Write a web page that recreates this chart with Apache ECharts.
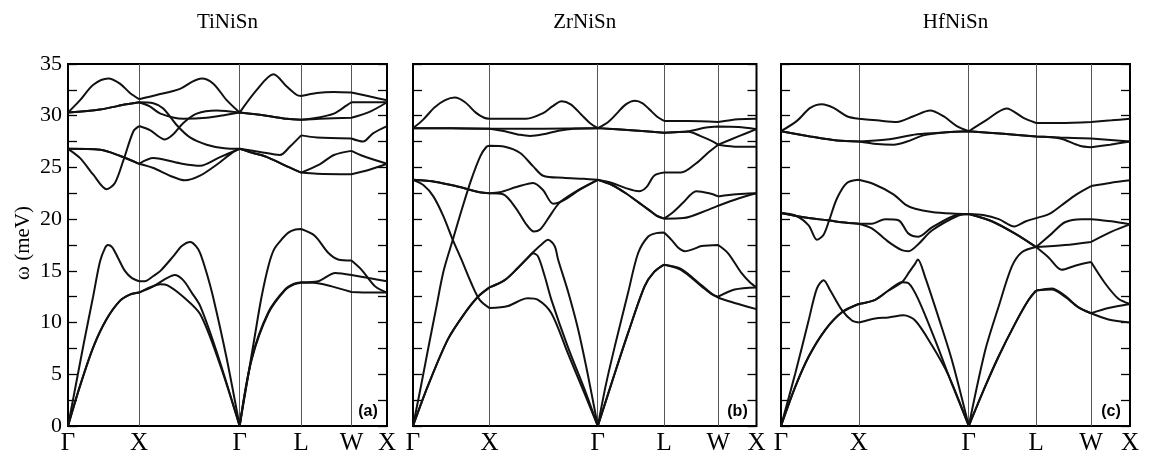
<!DOCTYPE html>
<html>
<head>
<meta charset="utf-8">
<script src="https://cdn.jsdelivr.net/npm/echarts@6/dist/echarts.min.js"></script>
<style>
  html, body { margin: 0; padding: 0; background: #fff; }
  #chart { width: 1152px; height: 456px; }
</style>
</head>
<body>
<div id="chart"></div>
<script>
// High-symmetry path Γ–X–Γ–L–W–X (path length in units of 2π/a)
const pathK = [0, 1, 2.414, 3.280, 3.987, 4.487];
const pathLabels = ['Γ', 'X', 'Γ', 'L', 'W', 'X'];
const freqTicks = [0, 5, 10, 15, 20, 25, 30, 35];
const compounds = ['TiNiSn', 'ZrNiSn', 'HfNiSn'];
const panelTags = ['(a)', '(b)', '(c)'];

// Phonon branches, [k, ω in meV]
const tiNiSn = [
  [[0,0],[0.1,3.6],[0.225,8.1],[0.35,12.4],[0.45,15.9],[0.52,17.2],[0.56,17.5],[0.62,17.3],[0.7,16.3],[0.8,15.0],[0.9,14.3],[1,14.0],[1.08,14.0],[1.2,14.5],[1.3,15.0],[1.48,16.4],[1.6,17.4],[1.72,17.8],[1.8,17.4],[1.86,16.7],[1.95,14.8],[2.04,12.5],[2.23,6.6],[2.414,0],[2.52,4.3],[2.63,8.8],[2.72,12.4],[2.82,15.5],[2.9,17.1],[3.0,18.0],[3.1,18.7],[3.2,19.0],[3.28,19.05],[3.47,18.4],[3.66,16.75],[3.8,16.1],[3.987,16.0],[4.13,15.1],[4.32,13.5],[4.487,12.9]],
  [[0,0],[0.17,3.9],[0.36,7.7],[0.54,10.3],[0.73,12.1],[0.87,12.7],[1,12.9],[1.2,13.5],[1.39,14.3],[1.5,14.6],[1.62,14.1],[1.74,12.9],[1.86,11.6],[2.09,7.2],[2.414,0],[2.583,6.5],[2.818,11.0],[3.053,13.2],[3.18,13.75],[3.28,13.9],[3.52,14.0],[3.76,14.8],[3.987,14.6],[4.23,14.3],[4.487,14.0]],
  [[0,0],[0.17,3.9],[0.36,7.7],[0.54,10.3],[0.73,12.1],[0.87,12.7],[1,12.9],[1.15,13.4],[1.3,13.7],[1.4,13.6],[1.62,12.5],[1.86,10.8],[2.14,5.9],[2.414,0],[2.583,6.4],[2.818,10.9],[3.053,13.15],[3.18,13.7],[3.28,13.85],[3.45,13.85],[3.71,13.5],[3.987,12.95],[4.25,12.9],[4.487,12.9]],
  [[0,30.3],[0.17,31.5],[0.356,33.0],[0.567,33.6],[0.73,33.1],[0.872,32.2],[1,31.6],[1.247,32.0],[1.575,32.6],[1.75,33.3],[1.88,33.6],[2.044,33.1],[2.232,31.5],[2.414,30.3],[2.655,32.5],[2.89,34.0],[3.08,32.8],[3.22,32.0],[3.28,31.9],[3.5,32.2],[3.74,32.3],[3.987,32.25],[4.25,31.85],[4.487,31.5]],
  [[0,30.3],[0.45,30.6],[0.82,31.1],[1,31.3],[1.15,30.9],[1.3,30.2],[1.62,29.7],[1.95,29.8],[2.23,30.1],[2.414,30.3],[2.79,30.0],[3.08,29.7],[3.28,29.6],[3.5,29.8],[3.74,30.2],[3.92,31.0],[3.987,31.3],[4.25,31.3],[4.487,31.3]],
  [[0,30.3],[0.45,30.6],[0.82,31.1],[1,31.3],[1.2,31.2],[1.34,30.7],[1.528,29.1],[1.716,27.9],[1.95,27.2],[2.2,26.85],[2.414,26.8],[2.6,26.4],[2.8,26.0],[3.08,25.1],[3.28,24.5],[3.5,24.4],[3.987,24.35],[4.25,24.8],[4.487,25.35]],
  [[0,26.8],[0.17,25.9],[0.356,24.3],[0.544,22.9],[0.66,23.5],[0.78,25.7],[0.92,28.5],[1,29.0],[1.153,28.6],[1.364,27.7],[1.481,28.2],[1.622,29.3],[1.81,30.2],[2.09,30.5],[2.414,30.3],[2.79,30.0],[3.08,29.7],[3.28,29.6],[3.54,29.7],[3.987,29.8],[4.25,30.4],[4.487,31.3]],
  [[0,26.8],[0.455,26.7],[0.736,26.1],[1,25.35],[1.2,25.9],[1.575,25.4],[1.857,25.16],[2.138,26.0],[2.414,26.8],[2.7,26.5],[2.98,26.2],[3.12,27.0],[3.28,28.1],[3.5,27.9],[3.987,27.8],[4.15,27.5],[4.29,28.3],[4.487,29.0]],
  [[0,26.8],[0.455,26.7],[0.736,26.1],[1,25.35],[1.2,24.94],[1.434,24.2],[1.645,23.75],[1.857,24.2],[2.09,25.26],[2.325,26.5],[2.414,26.8],[2.6,26.4],[2.8,26.0],[3.08,25.1],[3.28,24.5],[3.54,25.3],[3.74,26.2],[3.987,26.6],[4.15,26.1],[4.487,25.35]]
];

const zrNiSn = [
  [[0,28.8],[0.13,29.6],[0.28,30.8],[0.42,31.5],[0.545,31.75],[0.68,31.3],[0.82,30.3],[0.93,29.8],[1,29.7],[1.22,29.7],[1.48,29.7],[1.7,30.25],[1.82,30.9],[1.94,31.4],[2.06,31.1],[2.2,30.1],[2.31,29.3],[2.414,28.8],[2.55,29.4],[2.66,30.2],[2.78,31.1],[2.9,31.45],[3.0,31.2],[3.09,30.6],[3.19,29.9],[3.28,29.5],[3.6,29.5],[3.987,29.4],[4.25,29.65],[4.487,29.7]],
  [[0,28.8],[0.5,28.8],[1,28.75],[1.7,28.75],[2.414,28.8],[2.85,28.6],[3.28,28.35],[3.6,28.5],[3.83,28.85],[3.987,28.95],[4.25,28.9],[4.487,28.7]],
  [[0,28.8],[0.5,28.8],[1,28.75],[1.2,28.5],[1.4,28.15],[1.53,28.05],[1.7,28.2],[1.9,28.55],[2.1,28.75],[2.414,28.8],[2.85,28.6],[3.28,28.35],[3.6,28.45],[3.75,28.05],[3.92,27.5],[3.987,27.2],[4.25,27.0],[4.487,27.0]],
  [[0,0],[0.1,3.7],[0.196,7.4],[0.3,11.3],[0.4,15.0],[0.52,18.0],[0.64,21.0],[0.76,23.8],[0.88,26.1],[0.96,27.0],[1,27.1],[1.2,27.0],[1.4,26.4],[1.57,25.1],[1.7,24.2],[1.96,24.0],[2.23,23.9],[2.414,23.8],[2.6,23.5],[2.78,23.0],[2.95,22.7],[3.05,23.1],[3.15,24.2],[3.28,24.5],[3.5,24.5],[3.7,25.4],[3.85,26.4],[3.987,27.2],[4.25,28.0],[4.487,28.7]],
  [[0,23.8],[0.135,23.3],[0.266,22.2],[0.396,20.3],[0.52,18.0],[0.632,16.1],[0.762,13.8],[0.871,12.2],[1,11.4],[1.24,11.6],[1.415,12.2],[1.5,12.35],[1.633,12.2],[1.808,10.9],[2.025,7.0],[2.243,3.1],[2.414,0],[2.636,5.1],[2.81,9.0],[3.025,13.5],[3.15,14.9],[3.28,15.6],[3.5,15.2],[3.77,13.6],[3.9,12.8],[3.987,12.4],[4.2,11.9],[4.487,11.3]],
  [[0,0],[0.196,3.9],[0.457,8.4],[0.675,10.9],[0.849,12.5],[1,13.4],[1.198,14.1],[1.372,15.3],[1.52,16.4],[1.568,16.7],[1.633,16.4],[1.72,14.5],[1.808,12.2],[2.025,7.6],[2.243,3.5],[2.414,0],[2.636,5.1],[2.81,9.0],[3.025,13.5],[3.15,14.9],[3.28,15.6],[3.5,15.1],[3.77,13.5],[3.9,12.75],[3.987,12.5],[4.2,13.2],[4.487,13.4]],
  [[0,0],[0.196,3.9],[0.457,8.4],[0.675,10.9],[0.849,12.5],[1,13.4],[1.198,14.1],[1.372,15.3],[1.568,16.8],[1.7,17.7],[1.764,18.0],[1.85,17.4],[1.895,16.1],[2.025,13.0],[2.155,9.4],[2.28,5.1],[2.414,0],[2.52,4.0],[2.636,7.7],[2.81,12.9],[2.94,16.7],[3.07,18.3],[3.18,18.65],[3.28,18.7],[3.376,18.0],[3.47,17.2],[3.55,16.9],[3.66,17.1],[3.77,17.4],[3.987,17.5],[4.116,16.7],[4.29,14.8],[4.4,13.9],[4.487,13.4]],
  [[0,23.8],[0.3,23.6],[0.557,23.2],[0.872,22.6],[1,22.5],[1.133,22.6],[1.35,23.1],[1.57,23.5],[1.7,22.8],[1.83,21.5],[1.96,21.8],[2.18,22.85],[2.414,23.8],[2.6,23.3],[2.78,22.5],[2.95,21.6],[3.08,20.9],[3.18,20.35],[3.28,20.05],[3.4,20.7],[3.53,21.6],[3.7,22.7],[3.87,22.5],[3.987,22.2],[4.225,22.4],[4.487,22.5]],
  [[0,23.8],[0.3,23.6],[0.557,23.2],[0.872,22.6],[1,22.5],[1.176,22.4],[1.35,21.0],[1.47,19.6],[1.58,18.8],[1.66,19.0],[1.76,20.0],[1.86,21.1],[1.93,21.7],[2.18,22.9],[2.414,23.8],[2.6,23.3],[2.78,22.5],[2.95,21.6],[3.08,20.9],[3.18,20.35],[3.28,20.05],[3.53,20.1],[3.855,20.9],[3.987,21.3],[4.25,22.0],[4.487,22.5]]
];

const hfNiSn = [
  [[0,28.5],[0.205,29.5],[0.376,30.75],[0.526,31.1],[0.676,30.75],[0.847,29.95],[1,29.7],[1.232,29.55],[1.49,29.4],[1.703,29.95],[1.917,30.5],[2.089,29.95],[2.26,29.0],[2.414,28.5],[2.645,29.6],[2.9,30.7],[3.117,29.8],[3.28,29.3],[3.588,29.3],[3.987,29.4],[4.25,29.55],[4.487,29.7]],
  [[0,28.5],[0.376,28.0],[0.72,27.6],[1,27.5],[1.36,27.7],[1.75,28.2],[2.13,28.4],[2.414,28.5],[2.86,28.25],[3.28,28.0],[3.59,27.9],[3.987,27.8],[4.487,27.5]],
  [[0,28.5],[0.376,28.0],[0.72,27.6],[1,27.5],[1.19,27.3],[1.45,27.2],[1.62,27.5],[1.83,28.1],[2.13,28.4],[2.414,28.5],[2.86,28.25],[3.28,28.0],[3.59,27.8],[3.84,27.1],[3.987,26.95],[4.23,27.2],[4.487,27.5]],
  [[0,20.6],[0.184,20.35],[0.355,19.4],[0.462,18.0],[0.548,18.5],[0.62,19.9],[0.719,22.0],[0.847,23.5],[1,23.8],[1.19,23.4],[1.446,22.4],[1.6,21.4],[1.725,21.0],[1.94,20.7],[2.2,20.55],[2.414,20.5],[2.6,20.4],[2.8,20.0],[3.0,19.3],[3.15,19.8],[3.28,20.1],[3.45,20.5],[3.6,21.3],[3.8,22.4],[3.987,23.2],[4.23,23.5],[4.487,23.75]],
  [[0,20.6],[0.355,20.1],[0.6,19.9],[0.783,19.7],[1,19.55],[1.168,19.55],[1.34,20.0],[1.51,19.9],[1.64,18.6],[1.768,18.3],[1.94,19.2],[2.28,20.45],[2.414,20.5],[2.71,19.8],[3.01,18.6],[3.28,17.3],[3.48,18.6],[3.65,19.7],[3.866,20.0],[3.987,20.0],[4.25,19.8],[4.487,19.5]],
  [[0,20.6],[0.355,20.1],[0.6,19.9],[0.783,19.7],[1,19.55],[1.168,19.1],[1.382,17.8],[1.554,17.0],[1.64,16.9],[1.768,17.6],[1.94,18.9],[2.28,20.35],[2.414,20.5],[2.71,19.8],[3.01,18.6],[3.28,17.3],[3.65,17.5],[3.987,17.8],[4.25,18.8],[4.487,19.5]],
  [[0,0],[0.184,5.1],[0.355,10.2],[0.462,13.3],[0.548,14.1],[0.634,13.1],[0.783,11.2],[0.912,10.2],[1,10.0],[1.211,10.4],[1.382,10.5],[1.575,10.7],[1.725,10.2],[1.94,7.8],[2.153,4.9],[2.414,0],[2.624,3.8],[2.796,6.7],[3.01,9.9],[3.18,12.15],[3.28,13.1],[3.48,13.2],[3.65,12.5],[3.82,11.5],[3.987,10.9],[4.21,10.3],[4.487,10.0]],
  [[0,0],[0.184,3.8],[0.355,6.7],[0.569,9.3],[0.783,11.0],[1,11.8],[1.211,12.2],[1.382,13.1],[1.554,13.9],[1.64,13.8],[1.768,12.2],[1.982,8.3],[2.196,4.1],[2.414,0],[2.624,3.8],[2.796,6.7],[3.01,9.9],[3.18,12.15],[3.28,13.1],[3.48,13.3],[3.65,12.6],[3.82,11.5],[3.987,10.9],[4.21,11.4],[4.487,11.8]],
  [[0,0],[0.184,3.8],[0.355,6.7],[0.569,9.3],[0.783,11.0],[1,11.8],[1.211,12.2],[1.382,13.1],[1.554,13.9],[1.65,14.9],[1.725,15.7],[1.759,16.1],[1.853,14.4],[2.025,10.5],[2.196,6.4],[2.414,0],[2.625,7.3],[2.796,11.5],[2.967,15.4],[3.096,16.8],[3.28,17.3],[3.44,16.3],[3.609,15.1],[3.78,15.5],[3.987,15.85],[4.166,13.8],[4.338,12.3],[4.487,11.8]]
];

const panels = [tiNiSn, zrNiSn, hfNiSn];

// Plot-area rectangles of the three panels
const gridBoxes = [
  { left: 68,  top: 64, width: 319,   height: 363 },
  { left: 413, top: 64, width: 343.5, height: 363 },
  { left: 781, top: 64, width: 349,   height: 363 }
];

const SERIF = '"Liberation Serif", "Times New Roman", serif';

// Split a branch at the interior high-symmetry points so every path
// segment is smoothed on its own and the kinks stay sharp.
function segmented(branch) {
  const inner = pathK.slice(1, -1);
  const out = [];
  branch.forEach((p, i) => {
    out.push(p);
    const atCorner = inner.some(k => Math.abs(p[0] - k) < 0.015);
    if (atCorner && i > 0 && i < branch.length - 1) {
      out.push([p[0], '-']);
      out.push(p);
    }
  });
  return out;
}

function labelFor(v) {
  const i = pathK.findIndex(k => Math.abs(k - v) < 1e-6);
  return i >= 0 ? pathLabels[i] : '';
}

const grid = [], xAxis = [], yAxis = [], series = [], graphic = [];

gridBoxes.forEach((box, p) => {
  grid.push(Object.assign({ show: true, borderColor: '#000', borderWidth: 2, backgroundColor: 'transparent' }, box));

  xAxis.push({
    type: 'value', gridIndex: p, min: pathK[0], max: pathK[pathK.length - 1],
    axisLine: { show: false }, axisTick: { show: false }, splitLine: { show: false },
    axisLabel: {
      customValues: pathK, formatter: labelFor, margin: 5,
      fontFamily: SERIF, fontSize: 25, color: '#000'
    }
  });

  ['left', 'right'].forEach(side => {
    yAxis.push({
      type: 'value', gridIndex: p, position: side, min: 0, max: 35, interval: 2.5,
      axisLine: { show: false }, splitLine: { show: false },
      axisTick: { show: true, inside: true, length: 9, lineStyle: { color: '#000', width: 1.3 } },
      axisLabel: {
        show: p === 0 && side === 'left', margin: 6,
        fontFamily: SERIF, fontSize: 22, color: '#000',
        formatter: v => (freqTicks.indexOf(v) >= 0 ? String(v) : '')
      }
    });
  });

  panels[p].forEach((branch, b) => {
    const s = {
      type: 'line', xAxisIndex: p, yAxisIndex: 2 * p,
      data: segmented(branch), showSymbol: false, symbol: 'none',
      smooth: 0.3, connectNulls: false, silent: true, z: 3,
      lineStyle: { color: '#111', width: 2 }
    };
    if (b === 0) {
      s.markLine = {
        silent: true, symbol: ['none', 'none'], label: { show: false },
        lineStyle: { color: '#555', width: 1, type: 'solid' }, z: 1,
        data: pathK.slice(1, -1).map(k => ({ xAxis: k }))
      };
    }
    series.push(s);
  });

  graphic.push({
    type: 'text', x: box.left + box.width / 2, y: 22, silent: true,
    style: { text: compounds[p], font: '21px ' + SERIF, fill: '#000', textAlign: 'center', textVerticalAlign: 'middle' }
  });
  graphic.push({
    type: 'text', x: box.left + box.width - 19, y: 412, silent: true,
    style: { text: panelTags[p], font: 'bold 16px "Liberation Sans", Arial, sans-serif', fill: '#000', textAlign: 'center', textVerticalAlign: 'middle' }
  });
});

graphic.push({
  type: 'text', x: 23, y: 243, rotation: Math.PI / 2, silent: true,
  style: { text: 'ω (meV)', font: '21px ' + SERIF, fill: '#000', textAlign: 'center', textVerticalAlign: 'middle' }
});

const chart = echarts.init(document.getElementById('chart'), null, { renderer: 'canvas' });
chart.setOption({
  animation: false,
  backgroundColor: '#fff',
  grid, xAxis, yAxis, series, graphic
});
</script>
</body>
</html>
